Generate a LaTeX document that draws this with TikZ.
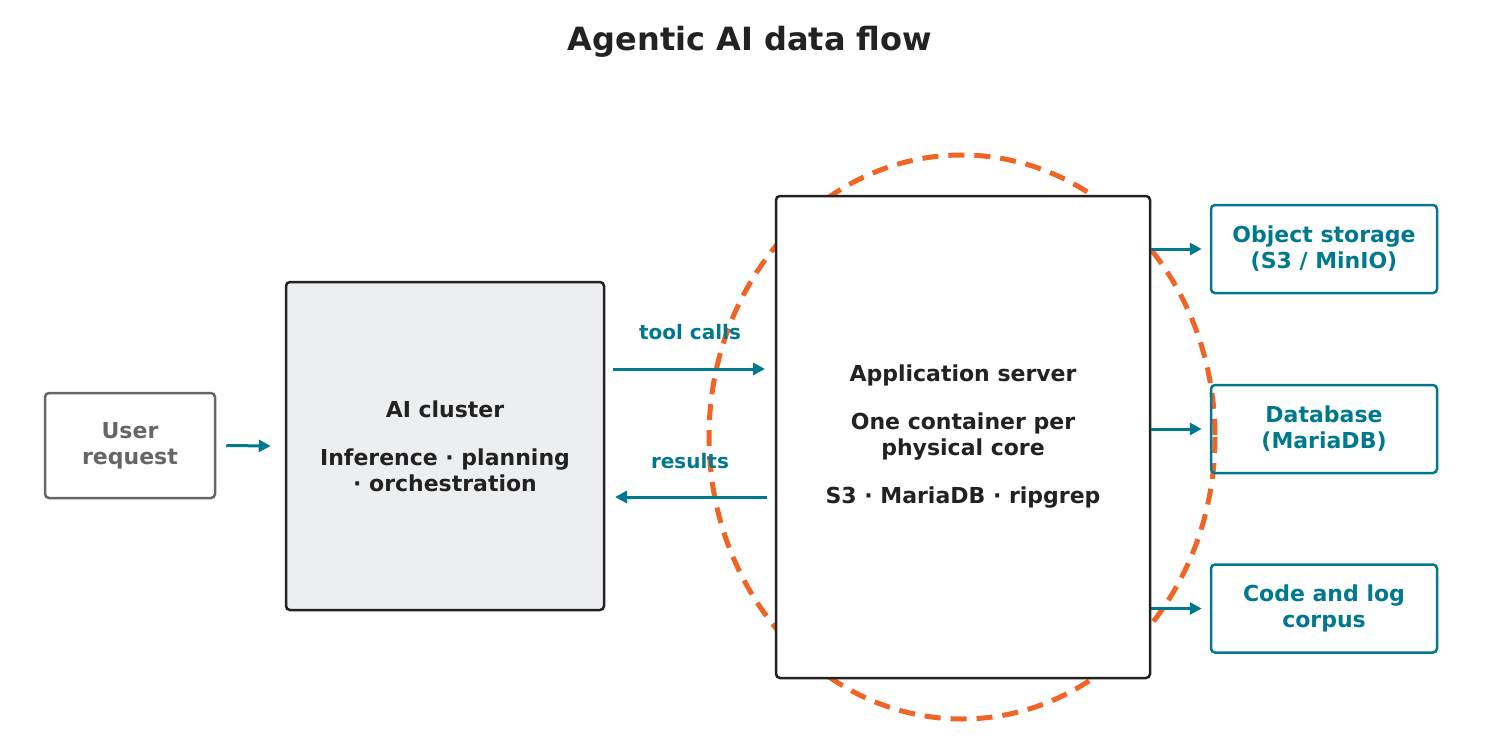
\documentclass[tikz,border=0pt]{standalone}
\usepackage{fontspec}
\setmainfont{DejaVu Sans}
\usetikzlibrary{arrows.meta}
\definecolor{teal}{HTML}{00798F}
\definecolor{ink}{HTML}{222222}
\definecolor{grayt}{HTML}{666666}
\definecolor{orng}{HTML}{F06425}
\definecolor{lightf}{HTML}{EDEEF0}
\tikzset{
  px/.style={x=0.5pt,y=-0.5pt},
  box/.style={draw, rounded corners=2pt, line width=1.25pt, align=center, font=\bfseries\fontsize{11}{13}\selectfont, inner sep=0pt},
  sbox/.style={box, draw=teal, text=teal, minimum width=113pt, minimum height=44pt},
  arr/.style={draw=teal, line width=1.5pt, -{Triangle[length=6pt,width=6pt]}},
  lbl/.style={text=teal, font=\bfseries\fontsize{10}{12}\selectfont}
}
\begin{document}
\begin{tikzpicture}[px]
\useasboundingbox (0,0) rectangle (1500,755);
\node[font=\bfseries\fontsize{16}{19}\selectfont, text=ink] (title) at (750,42) {Agentic AI data flow};
\node[box, draw=grayt, text=grayt, minimum width=85pt, minimum height=52.5pt] (user) at (130,445.5) {User\\request};
\node[box, draw=ink, text=ink, fill=lightf, minimum width=159pt, minimum height=164pt] (ai) at (445,446) {AI cluster\\[11pt]Inference · planning\\· orchestration};
\draw[orng, line width=2.5pt, dash pattern=on 8pt off 5pt] (962,437) ellipse [x radius=253, y radius=282];
\node[box, draw=ink, text=ink, fill=white, minimum width=187pt, minimum height=241pt] (app) at (963,437) {Application server\\[11pt]One container per\\physical core\\[11pt]S3 · MariaDB · ripgrep};
\node[sbox] (obj) at (1324,249) {Object storage\\(S3 / MinIO)};
\node[sbox] (db) at (1324,429) {Database\\(MariaDB)};
\node[sbox] (code) at (1324,608.5) {Code and log\\corpus};
\draw[arr] ([xshift=5pt]user.east) -- ([xshift=-7pt]ai.west);
\coordinate (tc1) at (613,369); \coordinate (tc2) at (765,369);
\coordinate (rs1) at (767,497); \coordinate (rs2) at (615,497);
\draw[arr] (tc1) -- (tc2);
\draw[arr] (rs1) -- (rs2);
\node[lbl] (tcl) at (690,332) {tool calls};
\node[lbl] (rsl) at (690,461) {results};
\draw[arr] (app.east |- obj.west) -- ([xshift=-4pt]obj.west);
\draw[arr] (app.east |- db.west) -- ([xshift=-4pt]db.west);
\draw[arr] (app.east |- code.west) -- ([xshift=-4pt]code.west);
\end{tikzpicture}
\end{document}
